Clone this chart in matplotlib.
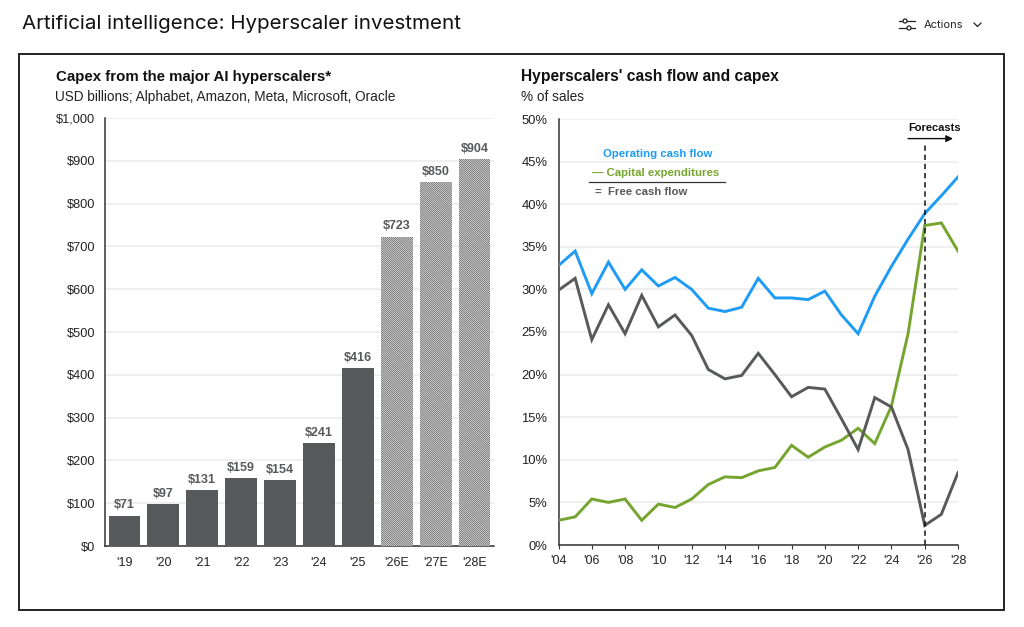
import matplotlib
matplotlib.use('Agg')
import matplotlib.pyplot as plt
from matplotlib.lines import Line2D
from matplotlib.patches import Rectangle, Circle
from matplotlib.ticker import FuncFormatter

# ==== DATA ====
bar_labels = ["'19", "'20", "'21", "'22", "'23", "'24", "'25", "'26E", "'27E", "'28E"]
capex_usd = [71, 97, 131, 159, 154, 241, 416, 723, 850, 904]
n_actual = 7

years = list(range(2004, 2029))
operating_cf = [32.8, 34.5, 29.5, 33.2, 30.0, 32.3, 30.4, 31.4, 30.0, 27.8, 27.4, 27.9, 31.3,
                29.0, 29.0, 28.8, 29.8, 27.0, 24.8, 29.2, 32.7, 35.9, 38.9, 41.0, 43.2]
capex_pct = [2.9, 3.3, 5.4, 5.0, 5.4, 2.9, 4.8, 4.4, 5.4, 7.1, 8.0, 7.9, 8.7,
             9.1, 11.7, 10.3, 11.5, 12.3, 13.7, 11.9, 16.3, 24.8, 37.5, 37.8, 34.5]
free_cf = [29.9, 31.3, 24.1, 28.2, 24.8, 29.3, 25.6, 27.0, 24.6, 20.6, 19.5, 19.9, 22.5,
           20.0, 17.4, 18.5, 18.3, 14.8, 11.2, 17.3, 16.2, 11.2, 2.3, 3.6, 8.5]

# ==== STYLE ====
W, H = 1024, 627
DARK = '#58595b'
BLUE = '#1e9bf5'
GREEN = '#76a52f'
GRID = '#ececec'
TEXT = '#222222'
plt.rcParams['font.family'] = ['Liberation Sans', 'DejaVu Sans']
plt.rcParams['hatch.linewidth'] = 0.6

fig = plt.figure(figsize=(W / 100, H / 100), dpi=100, facecolor='white')


def fx(px):
    return px / W


def fy(py):
    return 1 - py / H


def box(left, top, right, bottom):
    return [fx(left), fy(bottom), (right - left) / W, (bottom - top) / H]


# ==== PAGE FURNITURE ====
fig.text(fx(22), fy(24), 'Artificial intelligence: Hyperscaler investment', fontsize=14.8,
         family=['Inter', 'DejaVu Sans'], color='#111111', va='center')
fig.text(fx(924), fy(24.5), 'Actions', fontsize=8, family=['Inter', 'DejaVu Sans'],
         color='#222222', va='center')
fig.add_artist(Rectangle((fx(19), fy(610)), 985 / W, 556 / H, transform=fig.transFigure,
                         fill=False, edgecolor='#222222', linewidth=1.4))
# icono de filtros e seta do menu
for py, cx in [(21, 905), (28, 909)]:
    fig.add_artist(Line2D([fx(899), fx(915)], [fy(py), fy(py)], color='#222222', lw=0.9))
    fig.add_artist(Circle((cx, H - py), 2, transform=None, facecolor='white',
                          edgecolor='#222222', lw=0.9, zorder=5))
fig.add_artist(Line2D([fx(974), fx(977.5), fx(981)], [fy(23), fy(26.5), fy(23)],
                      color='#222222', lw=0.9))

# ==== LEFT PANEL ====
ax1 = fig.add_axes(box(105, 118, 494, 546))
pos = list(range(len(capex_usd)))
ax1.bar(pos[:n_actual], capex_usd[:n_actual], width=0.82, color=DARK, zorder=3)
ax1.bar(pos[n_actual:], capex_usd[n_actual:], width=0.82, facecolor='white',
        edgecolor='#606060', hatch='\\' * 16, linewidth=0, zorder=3)
for x, v in zip(pos, capex_usd):
    ax1.text(x, v + 10, f'${v}', ha='center', va='bottom', fontsize=9, fontweight='bold',
             color=DARK, zorder=4)
ax1.set_xlim(-0.5, 9.5)
ax1.set_ylim(0, 1000)
ax1.set_xticks(pos)
ax1.set_xticklabels(bar_labels)
ax1.set_yticks(range(0, 1001, 100))
ax1.yaxis.set_major_formatter(FuncFormatter(lambda v, _: f'${v:,.0f}'))

# ==== RIGHT PANEL ====
ax2 = fig.add_axes(box(558.5, 119, 958, 545))
ax2.plot(years, operating_cf, color=BLUE, lw=2.1, zorder=3, solid_joinstyle='miter')
ax2.plot(years, capex_pct, color=GREEN, lw=2.1, zorder=3, solid_joinstyle='miter')
ax2.plot(years, free_cf, color=DARK, lw=2.1, zorder=4, solid_joinstyle='miter')
ax2.axvline(2026, ymin=0, ymax=0.939, color='#111111', lw=1.1, ls=(0, (3.5, 2.5)), zorder=5)
ax2.set_xlim(2004, 2028)
ax2.set_ylim(0, 50)
ax2.set_xticks(years[::2])
ax2.set_xticklabels([f"'{y % 100:02d}" for y in years[::2]])
ax2.set_yticks(range(0, 51, 5))
ax2.yaxis.set_major_formatter(FuncFormatter(lambda v, _: f'{v:.0f}%'))

ax2.text(2006.65, 45.9, 'Operating cash flow', color=BLUE, fontsize=8.2, fontweight='bold',
         va='center')
ax2.text(2006.0, 43.65, '\u2014 Capital expenditures', color=GREEN, fontsize=8.2,
         fontweight='bold', va='center')
ax2.plot([2005.85, 2014.0], [42.55] * 2, color='#333333', lw=0.9, zorder=2)
ax2.text(2006.2, 41.4, '=  Free cash flow', color=DARK, fontsize=8.2, fontweight='bold',
         va='center')
ax2.text(2026.6, 49.0, 'Forecasts', color='#111111', fontsize=8, fontweight='bold',
         ha='center', va='center')
ax2.annotate('', xy=(2027.7, 47.7), xytext=(2025.0, 47.7),
             arrowprops=dict(arrowstyle='-|>', color='#111111', lw=1, mutation_scale=10,
                             shrinkA=0, shrinkB=0))

for ax in (ax1, ax2):
    ax.grid(axis='y', color=GRID, lw=1.2, zorder=0)
    ax.set_axisbelow(True)
    for side in ('top', 'right'):
        ax.spines[side].set_visible(False)
    for side in ('left', 'bottom'):
        ax.spines[side].set_color('#333333')
        ax.spines[side].set_linewidth(1.1)
    ax.tick_params(axis='x', length=3, width=0.8, color='#333333', pad=4, labelsize=9,
                   labelcolor=TEXT)
ax1.tick_params(axis='y', length=0, pad=7, labelsize=9.2, labelcolor=TEXT)
ax2.tick_params(axis='y', length=0, pad=8, labelsize=9.4, labelcolor=TEXT)
ax1.tick_params(axis='x', length=0, pad=8)

# ==== TITLES ====
fig.text(fx(56), fy(76.5), 'Capex from the major AI hyperscalers*', fontsize=10.8,
         fontweight='bold', color='#111111', va='center')
fig.text(fx(55), fy(97), 'USD billions; Alphabet, Amazon, Meta, Microsoft, Oracle', fontsize=9.85,
         color=TEXT, va='center')
fig.text(fx(521), fy(76.5), "Hyperscalers' cash flow and capex", fontsize=11.25,
         fontweight='bold', color='#111111', va='center')
fig.text(fx(521), fy(97), '% of sales', fontsize=9.8, color=TEXT, va='center')

fig.savefig('out.png', dpi=100)
